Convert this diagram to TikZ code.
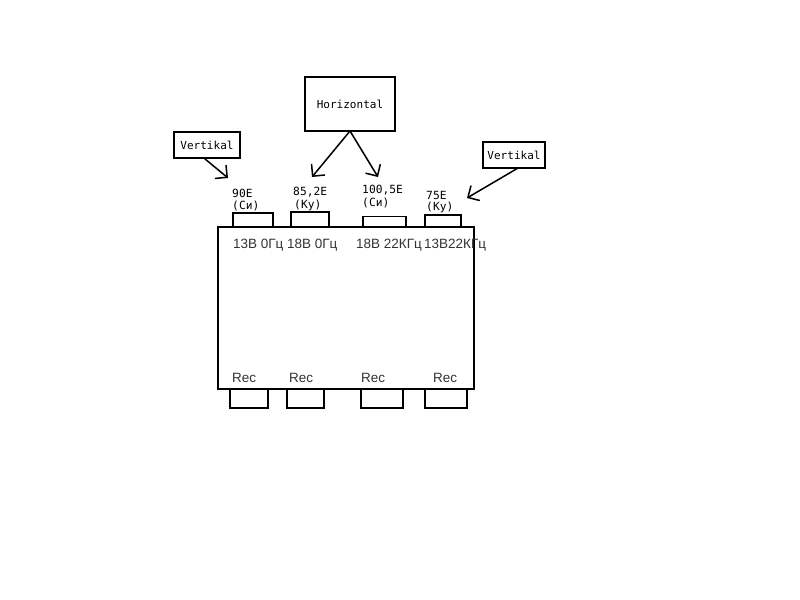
\documentclass[tikz,border=0pt]{standalone}
\usepackage{fontspec}
\setmonofont{DejaVu Sans Mono}
\setsansfont{Liberation Sans}
\usetikzlibrary{arrows.meta,positioning}
\tikzset{
    box/.style={draw, line width=1.7pt, inner sep=0pt, outer sep=0pt},
    satbox/.style={box, font=\ttfamily\fontsize{9.4}{11}\selectfont},
    lnb/.style={box},
    recbox/.style={box, minimum height=0.57cm},
    lbl/.style={anchor=west, inner sep=0pt, font=\ttfamily\fontsize{9.6}{11}\selectfont},
    port/.style={anchor=west, inner sep=0pt, font=\sffamily\fontsize{11.5}{13}\selectfont, text=black!80},
    hand/.style={line width=1.3pt, -{Straight Barb[length=2.6mm, width=5.2mm, line width=1.3pt]}}
}
\begin{document}
\begin{tikzpicture}[x=0.03cm, y=-0.03cm]
    \useasboundingbox (0,0) rectangle (800,600);
    % receiver body
    \node[box, minimum width=7.68cm, minimum height=4.86cm] (tuner) at (346,308) {};
    % satellites
    \node[satbox, minimum width=2.7cm, minimum height=1.62cm] (hor) at (350,104) {Horizontal};
    \node[satbox, minimum width=2.0cm, minimum height=0.76cm] (vl) at (207,145) {Vertikal};
    \node[satbox, minimum width=1.88cm, minimum height=0.8cm] (vr) at (514,155) {Vertikal};
    % lnb inputs
    \node[lnb, minimum width=1.2cm, minimum height=0.42cm] (in1) at (253,220) {};
    \node[lnb, minimum width=1.14cm, minimum height=0.45cm] (in2) at (310,219.5) {};
    \node[lnb, minimum width=1.29cm, minimum height=0.33cm] (in3) at (384.5,222) {};
    \node[lnb, minimum width=1.08cm, minimum height=0.38cm] (in4) at (443,221) {};
    \node[lbl] (e1) at (232,193) {90E};
    \node[lbl] (b1) at (232,206) {(Си)};
    \node[lbl] (e2) at (293,192) {85,2E};
    \node[lbl] (b2) at (294,205) {(Ку)};
    \node[lbl] (e3) at (362,190) {100,5E};
    \node[lbl] (b3) at (362,203) {(Си)};
    \node[lbl] (e4) at (426,195) {75E};
    \node[lbl] (b4) at (426,207) {(Ку)};
    \node[port] (p1) at (233,245) {13В 0Гц};
    \node[port] (p2) at (287,245) {18В 0Гц};
    \node[port] (p3) at (356,245) {18В 22КГц};
    \node[port] (p4) at (424,245) {13В22КГц};
    % outputs
    \node[recbox, minimum width=1.14cm] (r1) at (249,398.5) {};
    \node[recbox, minimum width=1.11cm] (r2) at (305.5,398.5) {};
    \node[recbox, minimum width=1.26cm] (r3) at (382,398.5) {};
    \node[recbox, minimum width=1.26cm] (r4) at (446,398.5) {};
    \node[port] (t1) at (232,378) {Rec};
    \node[port] (t2) at (289,378) {Rec};
    \node[port] (t3) at (361,378) {Rec};
    \node[port] (t4) at (433,378) {Rec};
    % arrows
    \coordinate (a1) at (228,178);
    \coordinate (h1) at (312,177);
    \coordinate (h2) at (378,177);
    \coordinate (a2) at (467,198);
    \draw[hand] ([xshift=-3]vl.south) -- (a1);
    \draw[hand] (hor.south) -- (h1);
    \draw[hand] (hor.south) -- (h2);
    \draw[hand] ([xshift=3]vr.south) -- (a2);
\end{tikzpicture}
\end{document}
